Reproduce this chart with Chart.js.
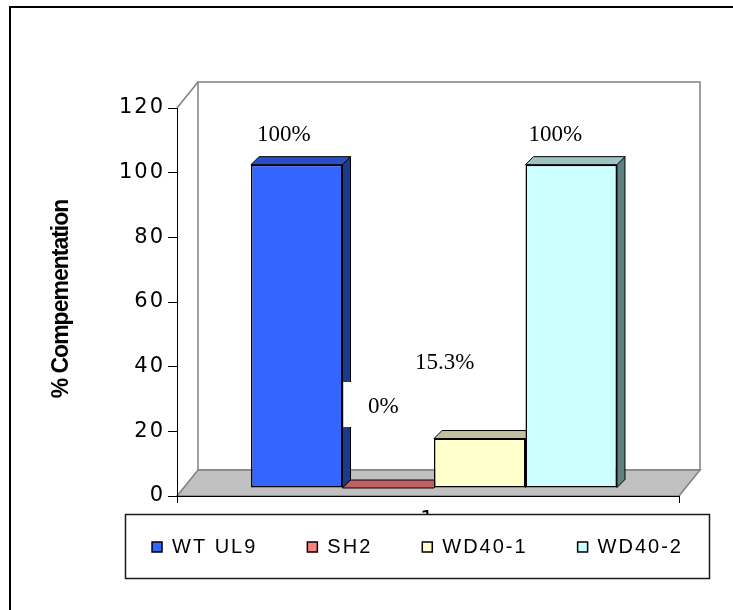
<!DOCTYPE html>
<html>
<head>
<meta charset="utf-8">
<script src="https://cdn.jsdelivr.net/npm/chart.js@4/dist/chart.umd.min.js"></script>
<style>
  html, body { margin: 0; padding: 0; background: #ffffff; }
  canvas { display: block; }
</style>
</head>
<body>
<canvas id="chart" width="733" height="610"></canvas>
<script>
// ---- data ----
const categories = ['1'];
const seriesNames = ['WT UL9', 'SH2', 'WD40-1', 'WD40-2'];
const seriesValues = [100, 0, 15.3, 100];
const yTicks = [0, 20, 40, 60, 80, 100, 120];
const axisTitle = '% Compementation';

// ---- styling ----
const frontColors = ['#3366ff', '#ff8080', '#ffffcc', '#ccffff'];
const topColors   = ['#2a4fc4', '#c06060', '#c0c0a0', '#9cc4c4'];
const sideColors  = ['#1e3a8c', '#804040', '#80806a', '#5f8080'];
const labelOffsets = [[-13, -30], [-5, -81], [-35, -76], [-16, -30]];
const labelBackgrounds = [null, '#ffffff', null, null];

const FRONT_SHIFT = { x: 6, y: -8 };   // bars sit a little behind the front axis plane
const BAR_DEPTH   = { x: 8, y: -8 };   // depth of each bar's top/side faces
const WALL_DEPTH  = { x: 21, y: -26 }; // depth of floor and back wall
const TEXT_SPACING = '2px';

// pseudo 3-D scene: wall, floor, bar faces, value labels, legend frame
const scenePlugin = {
  id: 'scene3d',
  beforeLayout(chart) {
    chart.ctx.letterSpacing = TEXT_SPACING;
  },
  afterLayout(chart) {
    const lg = chart.legend;
    if (lg) { lg.top -= 27; lg.bottom -= 27; }
  },
  beforeDraw(chart) {
    const { ctx, chartArea: a, scales: { y } } = chart;
    const y0 = y.getPixelForValue(0);
    const yMax = y.getPixelForValue(y.max);
    const dx = WALL_DEPTH.x, dy = WALL_DEPTH.y;
    ctx.save();
    ctx.fillStyle = '#ffffff';
    ctx.fillRect(0, 0, chart.width, chart.height);

    // outer frame
    ctx.strokeStyle = '#000000';
    ctx.lineWidth = 2;
    ctx.beginPath();
    ctx.moveTo(10, chart.height);
    ctx.lineTo(10, 7);
    ctx.lineTo(chart.width, 7);
    ctx.stroke();

    // back wall
    ctx.strokeStyle = '#808080';
    ctx.lineWidth = 1.5;
    ctx.strokeRect(a.left + dx, yMax + dy, a.right - a.left, y0 - yMax);
    ctx.beginPath();
    ctx.moveTo(a.left, yMax);
    ctx.lineTo(a.left + dx, yMax + dy);
    ctx.stroke();

    // floor
    ctx.beginPath();
    ctx.moveTo(a.left, y0);
    ctx.lineTo(a.left + dx, y0 + dy);
    ctx.lineTo(a.right + dx, y0 + dy);
    ctx.lineTo(a.right, y0);
    ctx.closePath();
    ctx.fillStyle = '#c0c0c0';
    ctx.fill();
    ctx.stroke();

    // y axis title
    ctx.letterSpacing = '-1px';
    ctx.translate(a.left - 115, (a.top + a.bottom) / 2 - 3);
    ctx.rotate(-Math.PI / 2);
    ctx.fillStyle = '#000000';
    ctx.font = 'bold 23px "Liberation Sans", Arial, sans-serif';
    ctx.textAlign = 'center';
    ctx.textBaseline = 'middle';
    ctx.fillText(axisTitle, 0, 0);
    ctx.restore();
    ctx.letterSpacing = TEXT_SPACING;
  },
  beforeDatasetsDraw(chart) {
    const ctx = chart.ctx;
    ctx.save();
    ctx.lineWidth = 1;
    ctx.strokeStyle = '#000000';
    chart.data.datasets.forEach((ds, i) => {
      const el = chart.getDatasetMeta(i).data[0];
      const p = el.getProps(['x', 'y', 'base', 'width'], true);
      const l = p.x - p.width / 2 + FRONT_SHIFT.x;
      const r = p.x + p.width / 2 + FRONT_SHIFT.x;
      const t = Math.min(p.y, p.base) + FRONT_SHIFT.y;
      const b = Math.max(p.y, p.base) + FRONT_SHIFT.y;
      const bx = BAR_DEPTH.x, by = BAR_DEPTH.y;
      // side face
      ctx.beginPath();
      ctx.moveTo(r, t);
      ctx.lineTo(r + bx, t + by);
      ctx.lineTo(r + bx, b + by);
      ctx.lineTo(r, b);
      ctx.closePath();
      ctx.fillStyle = sideColors[i];
      ctx.fill();
      ctx.stroke();
      // top face
      ctx.beginPath();
      ctx.moveTo(l, t);
      ctx.lineTo(l + bx, t + by);
      ctx.lineTo(r + bx, t + by);
      ctx.lineTo(r, t);
      ctx.closePath();
      ctx.fillStyle = topColors[i];
      ctx.fill();
      ctx.stroke();
    });
    ctx.restore();
    // front faces are drawn by Chart.js in the shifted plane
    ctx.save();
    ctx.translate(FRONT_SHIFT.x, FRONT_SHIFT.y);
  },
  afterDatasetsDraw(chart) {
    const ctx = chart.ctx;
    ctx.restore();
    ctx.save();
    ctx.letterSpacing = '0px';
    ctx.font = '23px "Liberation Serif", "Times New Roman", serif';
    ctx.textAlign = 'center';
    ctx.textBaseline = 'middle';
    chart.data.datasets.forEach((ds, i) => {
      const el = chart.getDatasetMeta(i).data[0];
      const p = el.getProps(['x', 'y'], true);
      const cx = p.x + FRONT_SHIFT.x + labelOffsets[i][0];
      const cy = p.y + FRONT_SHIFT.y + labelOffsets[i][1];
      if (labelBackgrounds[i]) {
        ctx.fillStyle = labelBackgrounds[i];
        ctx.fillRect(cx - 40, cy - 25, 80, 45);
      }
      ctx.fillStyle = '#000000';
      ctx.fillText(ds.data[0] + '%', cx, cy);
    });
    ctx.restore();
    ctx.letterSpacing = TEXT_SPACING;
  },
  afterDraw(chart) {
    const { ctx, chartArea: a } = chart;
    // legend frame, then the legend items on top of it
    const fx = a.left - 52, fy = a.bottom + 18, fw = (a.right + 30) - fx, fh = 64;
    ctx.save();
    ctx.fillStyle = '#ffffff';
    ctx.fillRect(fx, fy, fw, fh);
    ctx.strokeStyle = '#1a1a1a';
    ctx.lineWidth = 1.5;
    ctx.strokeRect(fx + 0.5, fy + 0.5, fw, fh);
    ctx.restore();
    ctx.letterSpacing = TEXT_SPACING;
    if (chart.legend) chart.legend.draw();
  }
};

const tickFont = { family: '"DejaVu Sans", sans-serif', size: 21 };

new Chart(document.getElementById('chart'), {
  type: 'bar',
  data: {
    labels: categories,
    datasets: seriesNames.map((name, i) => ({
      label: name,
      data: [seriesValues[i]],
      backgroundColor: frontColors[i],
      borderColor: '#000000',
      borderWidth: 1.5,
      borderSkipped: false,
      clip: false,
      categoryPercentage: 0.729,
      barPercentage: 1
    }))
  },
  options: {
    responsive: false,
    animation: false,
    events: [],
    layout: { padding: { left: 82, right: -20, top: 108, bottom: 16 } },
    plugins: {
      tooltip: { enabled: false },
      legend: {
        display: true,
        position: 'bottom',
        align: 'center',
        labels: {
          color: '#000000',
          boxWidth: 10,
          boxHeight: 10,
          padding: 50,
          font: { family: '"Liberation Sans", Arial, sans-serif', size: 20 }
        }
      }
    },
    scales: {
      x: {
        type: 'category',
        position: 'bottom',
        offset: true,
        grid: { display: true, drawOnChartArea: false, offset: true, tickLength: 7, color: '#000000' },
        border: { display: true, color: '#000000', width: 1 },
        ticks: { font: tickFont, color: '#000000', padding: 5, autoSkip: false, maxRotation: 0 },
        afterFit(s) { s.height = 18; }
      },
      y: {
        type: 'linear',
        position: 'left',
        min: 0,
        max: 120,
        afterBuildTicks(s) { s.ticks = yTicks.map(v => ({ value: v })); },
        grid: { display: true, drawOnChartArea: false, tickLength: 9, color: '#000000' },
        border: { display: true, color: '#000000', width: 1 },
        ticks: { font: tickFont, color: '#000000', padding: 3 },
        afterFit(s) { s.width = 95; }
      },
      yR: {
        type: 'linear',
        position: 'right',
        display: true,
        grid: { display: false },
        border: { display: false },
        ticks: { display: false },
        afterFit(s) { s.width = 74; }
      }
    }
  },
  plugins: [scenePlugin]
});
</script>
</body>
</html>
